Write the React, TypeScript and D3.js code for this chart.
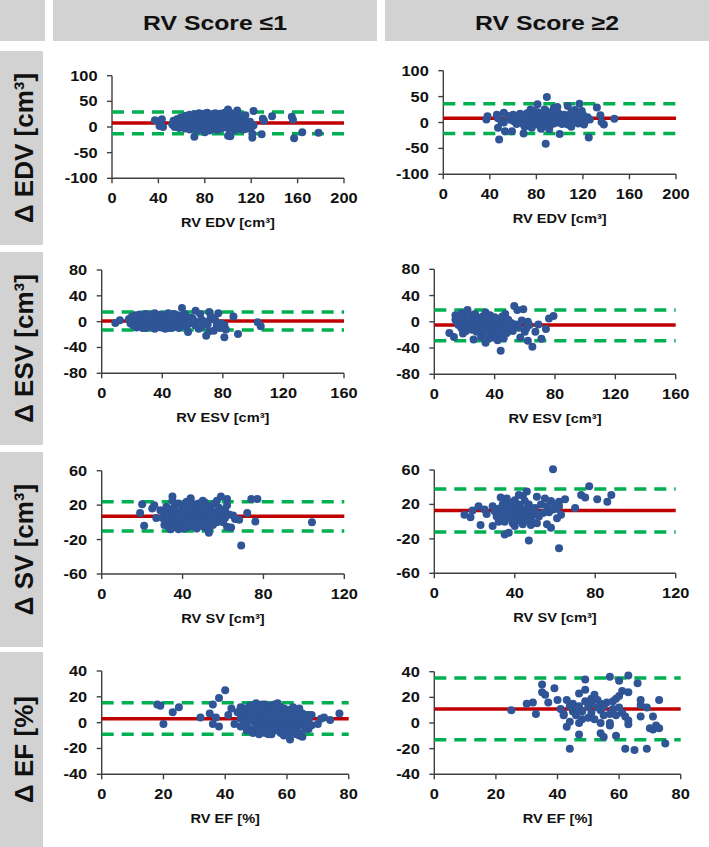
import React from 'react';
import * as d3 from 'd3';

type Pt = [number, number];

// ---------- DATA ----------
const columnTitles = ['RV Score ≤1', 'RV Score ≥2'];
const rowLabels = ['Δ EDV [cm³]', 'Δ ESV [cm³]', 'Δ SV [cm³]', 'Δ EF [%]'];
const xTitles = ['RV EDV [cm³]', 'RV ESV [cm³]', 'RV SV [cm³]', 'RV EF [%]'];
const xDomains: [number, number][] = [[0, 200], [0, 160], [0, 120], [0, 80]];
const xTicks = [[0, 40, 80, 120, 160, 200], [0, 40, 80, 120, 160], [0, 40, 80, 120], [0, 20, 40, 60, 80]];
const yDomains: [number, number][] = [[-100, 100], [-80, 80], [-60, 60], [-40, 40]];
const yTicks = [[-100, -50, 0, 50, 100], [-80, -40, 0, 40, 80], [-60, -20, 20, 60], [-40, -20, 0, 20, 40]];

// [mean bias, upper LoA, lower LoA] per row, for score ≤1 and ≥2
const statsLow = [[8, 29, -13], [1, 15, -13], [7, 24, -10], [3, 15.5, -9]];
const statsHigh = [[8, 36, -21], [-5, 18, -29], [13, 38, -12], [11, 35, -13]];

const edvLow: Pt[] = [
  [37,13],[41,2],[43,15],[44,0],[71,-19],[80,-10],[100,-17],[102,-18],[100,34],[108,32],[122,31],[121,-21],[121,-13],[129,-14],[130,16],[131,12],[138,21],[155,20],[156,14],[157,-22],[164,-10],[178,-11],
  [52,5],[53,12],[54,0],[55,8],[56,15],[57,3],[58,10],[58,-2],[59,18],[60,6],[60,13],[61,1],[62,20],[62,9],[63,-3],[63,15],[64,4],[64,22],[65,11],[65,0],[66,17],[66,7],[67,-5],[67,24],[68,13],[68,3],[69,19],[69,9],[70,-2],[70,15],[71,25],[71,6],[72,12],[72,0],[73,20],[73,8],[74,-6],[74,16],[75,27],[75,4],[76,11],[76,22],[77,-1],[77,14],[78,7],[78,19],[79,2],[79,26],[80,12],[80,21],[81,-4],[81,9],[82,16],[82,28],[83,3],[83,13],[84,23],[84,-7],[85,10],[85,18],[86,1],[86,25],[87,14],[87,6],[88,20],[88,-3],[89,11],[89,27],[90,4],[90,16],[91,22],[91,-6],[92,9],[92,14],[93,26],[93,2],[94,18],[94,7],[95,-2],[95,23],[96,12],[96,5],[97,19],[97,28],[98,0],[98,15],[99,8],[99,24],[100,13],[101,-4],[101,20],[102,6],[103,17],[103,27],[104,1],[104,11],[105,22],[106,-6],[106,14],[107,8],[107,25],[108,18],[109,3],[109,12],[110,-3],[110,21],[111,9],[112,15],[113,-5],[113,4],[114,11],[115,23],[116,2],[117,7],[118,-2],[119,10],[120,5],[120,0],[122,3],[115,-4]
];

const edvHigh: Pt[] = [
  [37,6],[38,12],[46,15],[47,8],[47,-10],[48,-33],[50,1],[52,19],[53,-17],[52,0],[55,13],[59,-17],[60,15],[64,10],[66,17],[67,4],[69,-4],[69,-21],[73,8],[75,25],[78,13],[81,35],[83,-2],[88,23],[88,-41],[89,49],[91,-13],[95,28],[98,30],[100,-22],[107,32],[113,24],[117,36],[119,22],[121,-4],[125,-29],[126,6],[132,29],[135,14],[136,1],[138,-4],[147,7],
  [58,5],[61,2],[62,12],[63,-3],[65,8],[66,0],[68,14],[70,-8],[71,6],[72,18],[73,-2],[74,10],[75,2],[76,-6],[77,15],[78,22],[79,5],[80,-4],[80,10],[81,20],[82,0],[83,8],[84,15],[85,-8],[85,4],[86,12],[87,25],[88,-2],[89,7],[90,16],[91,2],[92,-5],[92,10],[93,20],[94,5],[95,-2],[96,14],[97,8],[98,0],[99,18],[100,5],[101,12],[102,-3],[103,8],[104,15],[105,2],[106,10],[107,-4],[108,14],[109,5],[110,20],[111,0],[112,8],[114,3],[115,12],[116,-2],[118,8],[120,15],[122,3],[124,10],[110,-8],[96,24],[84,-12],[76,-10]
];

const esvLow: Pt[] = [
  [9,-2],[12,2],[53,21],[57,-16],[62,17],[65,12],[69,0],[69,-22],[71,-15],[71,15],[77,13],[76,-7],[78,-10],[81,-24],[81,-5],[82,-12],[87,8],[90,-19],[103,-1],[105,-7],[74,5],[66,-8],[62,0],[59,6],[64,-11],[74,-14],
  [18,4],[19,-3],[20,8],[20,0],[21,-6],[21,5],[22,10],[22,-1],[23,3],[23,-9],[24,7],[24,-4],[25,1],[25,11],[26,-7],[26,4],[27,9],[27,-2],[28,0],[28,6],[29,-10],[29,12],[30,3],[30,-5],[31,8],[31,-1],[32,5],[32,-8],[33,11],[33,2],[34,-3],[34,7],[35,13],[35,-11],[36,0],[36,5],[37,9],[37,-6],[38,3],[38,-2],[39,11],[39,-9],[40,6],[40,0],[41,-4],[41,8],[42,2],[42,-11],[43,10],[43,-1],[44,4],[44,-7],[45,7],[45,1],[46,-3],[46,11],[47,5],[47,-9],[48,0],[48,8],[49,-5],[49,3],[50,10],[50,-2],[51,6],[51,-10],[52,1],[52,-6],[53,9],[53,4],[54,-3],[54,7],[55,0],[55,12],[56,-8],[56,5],[30,9],[33,-6],[36,10],[39,-5],[42,7],[45,-10],[48,12],[24,9],[27,-10],[44,13],[58,-3],[60,5],[62,-6],[66,3],[70,-4],[72,8],[75,2],[79,-3]
];

const esvHigh: Pt[] = [
  [10,-17],[13,-23],[14,10],[14,3],[18,13],[22,18],[26,-27],[34,-32],[34,14],[39,-24],[42,-28],[44,-44],[47,12],[53,24],[55,18],[57,-24],[59,19],[62,-29],[65,-38],[69,-4],[71,-26],[74,-11],[76,5],[79,9],[67,-15],[62,0],[61,-10],[51,-2],
  [15,0],[16,-5],[17,5],[18,-10],[19,2],[20,-3],[20,8],[21,-14],[22,0],[23,5],[23,-8],[24,-2],[25,10],[25,-12],[26,2],[27,-6],[28,6],[28,-15],[29,-1],[30,3],[30,-9],[31,-4],[32,8],[32,-18],[33,0],[34,-7],[35,5],[35,-12],[36,-2],[37,10],[37,-20],[38,-5],[38,3],[39,-10],[40,0],[40,7],[41,-15],[41,-3],[42,4],[43,-8],[43,-21],[44,1],[45,-5],[45,8],[46,-12],[47,-2],[48,-17],[49,3],[50,-8],[52,-14],[54,-4],[56,-9],[58,2],[60,-15],[63,-5],[27,12],[19,-18],[31,-23],[36,-26],[46,-25]
];

const svLow: Pt[] = [
  [20,21],[19,11],[21,-4],[25,16],[26,20],[27,5],[29,14],[35,30],[44,28],[50,25],[53,-12],[59,30],[62,27],[62,-5],[64,-6],[66,4],[69,-27],[72,11],[74,27],[76,1],[77,27],[104,0],[34,-8],[39,-4],[43,-5],[49,-4],[57,0],[61,14],
  [30,5],[31,-3],[31,12],[32,2],[33,8],[33,-5],[34,15],[34,0],[35,6],[35,-6],[36,18],[36,3],[37,10],[37,-2],[38,7],[38,22],[39,0],[39,13],[40,4],[40,-6],[41,17],[41,9],[42,2],[42,24],[43,11],[43,-3],[44,6],[44,19],[45,0],[45,14],[46,8],[46,-5],[47,21],[47,3],[48,12],[48,-2],[49,7],[49,17],[50,1],[50,11],[51,23],[51,-6],[52,5],[52,15],[53,9],[53,0],[54,19],[54,4],[55,12],[55,-3],[56,7],[56,22],[57,10],[58,3],[58,17],[59,8],[60,0],[60,14],[61,5],[62,20],[32,18],[35,25],[38,-8],[41,-7],[44,25],[47,-7],[50,20],[53,-8],[57,25],[63,9],[65,8],[68,3],[36,12],[40,20],[46,14],[39,8],[43,16],[48,22]
];

const svHigh: Pt[] = [
  [15,8],[18,5],[19,13],[22,18],[23,-4],[25,14],[26,9],[29,18],[29,-5],[32,0],[33,28],[35,-15],[37,-13],[42,31],[46,35],[47,-22],[51,29],[51,-2],[55,27],[56,-3],[58,-7],[59,61],[61,15],[62,-31],[61,4],[65,26],[70,16],[73,31],[75,28],[77,41],[81,26],[86,23],[88,31],[57,11],[58,24],[60,20],[62,23],
  [30,12],[31,6],[32,15],[33,3],[34,10],[35,18],[35,0],[36,8],[37,14],[37,22],[38,4],[38,11],[39,18],[39,-2],[40,7],[40,25],[41,13],[41,1],[42,9],[42,20],[43,5],[43,16],[44,-3],[44,11],[45,24],[45,7],[46,15],[46,2],[47,10],[47,20],[48,5],[48,13],[49,-1],[49,8],[50,16],[50,12],[52,6],[53,20],[54,10],[56,18],[59,14],[62,18],[63,8],[40,-5],[36,27],[34,20],[44,30],[48,-4]
];

const efLow: Pt[] = [
  [18,14],[19,13],[20,-1],[23,8],[25,12],[32,4],[35,7],[36,14],[36,-1],[37,4],[38,19],[38,-3],[40,25],[41,6],[42,11],[43,-1],[61,-13],[59,-10],[64,-10],[65,-11],[67,-5],[68,6],[70,-1],[72,4],[74,2],[77,7],[71,3],[62,9],[66,6],
  [44,8],[45,3],[45,12],[46,-2],[46,6],[47,10],[47,0],[48,4],[48,-5],[48,13],[49,7],[49,-8],[49,1],[50,15],[50,5],[50,-3],[50,10],[51,-9],[51,8],[51,2],[51,13],[52,-5],[52,6],[52,0],[52,11],[53,3],[53,-8],[53,9],[53,14],[54,-2],[54,5],[54,11],[54,-6],[55,1],[55,8],[55,13],[55,-9],[56,4],[56,-3],[56,10],[56,0],[57,7],[57,15],[57,-6],[57,2],[58,9],[58,-1],[58,12],[58,-8],[59,5],[59,0],[59,11],[59,-4],[60,7],[60,2],[60,-6],[60,10],[61,-2],[61,4],[61,9],[62,0],[62,6],[62,-7],[62,12],[63,3],[63,-4],[63,8],[64,1],[64,-8],[64,5],[64,11],[65,-2],[65,4],[65,7],[66,0],[66,-5],[66,3],[67,2],[67,6],[68,-2],[49,4],[50,-6],[51,-1],[52,3],[53,0],[54,2],[55,-4],[56,7],[57,-3],[58,4],[59,-7],[60,-1],[61,1],[62,3],[63,-1],[47,5],[48,9],[46,11],[45,-3],[47,-6],[53,6],[55,5],[57,10],[59,8],[61,-8],[63,-9],[50,12],[52,14],[56,14],[54,-9]
];

const efHigh: Pt[] = [
  [25,10],[30,15],[32,16],[33,7],[35,30],[35,24],[36,22],[37,16],[39,27],[40,18],[41,11],[42,6],[43,18],[43,-3],[44,1],[44,-20],[45,15],[47,-9],[47,23],[49,26],[49,34],[54,-8],[55,-11],[54,0],[56,16],[57,36],[57,0],[57,-2],[59,-10],[60,33],[60,21],[61,25],[62,-20],[63,24],[63,37],[62,5],[63,2],[63,-1],[65,-21],[66,31],[67,18],[67,14],[67,5],[69,12],[69,-20],[70,-4],[71,-5],[71,5],[72,-2],[73,18],[73,-4],[75,-16],
  [42,7],[44,13],[45,9],[46,6],[47,13],[48,9],[50,13],[50,4],[51,19],[51,8],[52,22],[52,3],[54,15],[54,10],[55,13],[58,17],[58,11],[59,19],[60,12],[61,8],[53,18],[53,12],[51,15],[49,17],[48,3],[47,0],[46,11],[55,6],[57,7],[59,6]
];

const pointsLow = [edvLow, esvLow, svLow, efLow];
const pointsHigh = [edvHigh, esvHigh, svHigh, efHigh];

// ---------- LAYOUT ----------
const W = 709;
const H = 847;
const GREY = '#d2d2d2';
const DOT = '#2f5597';
const RED = '#c00000';
const GREEN = '#00b050';
const AXIS = '#404040';
const FONT = '"Liberation Sans", Arial, sans-serif';

const headerBoxes = [
  { x: 53, w: 324 },
  { x: 385, w: 324 },
];
const rowBoxes = [
  { y: 51, h: 194 },
  { y: 252, h: 193 },
  { y: 452, h: 195 },
  { y: 652, h: 195 },
];
// plot frames: [col][row]
const frames = [
  [
    { x0: 112, x1: 344, y0: 75.7, y1: 178.3 },
    { x0: 101.7, x1: 344, y0: 270, y1: 373.3 },
    { x0: 101.7, x1: 344.3, y0: 470.7, y1: 574 },
    { x0: 101.7, x1: 348.7, y0: 671, y1: 774.3 },
  ],
  [
    { x0: 443.3, x1: 676, y0: 70.7, y1: 174.3 },
    { x0: 434.3, x1: 675.7, y0: 269.3, y1: 374.3 },
    { x0: 434.3, x1: 675.7, y0: 470, y1: 573.3 },
    { x0: 434.3, x1: 680.7, y0: 671.7, y1: 774.3 },
  ],
];

const SX = 1.17;

function Panel({ col, row }: { col: number; row: number }) {
  const f = frames[col][row];
  const x = d3.scaleLinear().domain(xDomains[row]).range([f.x0, f.x1]);
  const y = d3.scaleLinear().domain(yDomains[row]).range([f.y1, f.y0]);
  const pts = col === 0 ? pointsLow[row] : pointsHigh[row];
  const st = col === 0 ? statsLow[row] : statsHigh[row];
  const cx = (f.x0 + f.x1) / 2;
  return (
    <g>
      {/* axes */}
      <line x1={f.x0} x2={f.x0} y1={f.y0} y2={f.y1} stroke={AXIS} strokeWidth={1.4} />
      <line x1={f.x0} x2={f.x1} y1={f.y1} y2={f.y1} stroke={AXIS} strokeWidth={1.4} />
      {yTicks[row].map((t) => (
        <g key={'y' + t}>
          <line x1={f.x0 - 5} x2={f.x0} y1={y(t)} y2={y(t)} stroke={AXIS} strokeWidth={1.4} />
          <text
            transform={`translate(${f.x0 - 14.5},${y(t) + 5}) scale(${SX},1)`}
            textAnchor="end"
            fontFamily={FONT}
            fontWeight="bold"
            fontSize={14}
            fill="#111"
          >
            {t}
          </text>
        </g>
      ))}
      {xTicks[row].map((t) => (
        <g key={'x' + t}>
          <line x1={x(t)} x2={x(t)} y1={f.y1} y2={f.y1 + 5} stroke={AXIS} strokeWidth={1.4} />
          <text
            transform={`translate(${x(t)},${f.y1 + 25}) scale(${SX},1)`}
            textAnchor="middle"
            fontFamily={FONT}
            fontWeight="bold"
            fontSize={14}
            fill="#111"
          >
            {t}
          </text>
        </g>
      ))}
      <text
        transform={`translate(${cx},${f.y1 + 49}) scale(${SX},1)`}
        textAnchor="middle"
        fontFamily={FONT}
        fontWeight="bold"
        fontSize={12.5}
        fill="#111"
      >
        {xTitles[row]}
      </text>
      {/* limits and mean */}
      <line x1={f.x0} x2={f.x1} y1={y(st[1])} y2={y(st[1])} stroke={GREEN} strokeWidth={3.5} strokeDasharray="12,8" />
      <line x1={f.x0} x2={f.x1} y1={y(st[2])} y2={y(st[2])} stroke={GREEN} strokeWidth={3.5} strokeDasharray="12,8" />
      <line x1={f.x0} x2={f.x1} y1={y(st[0])} y2={y(st[0])} stroke={RED} strokeWidth={3.5} />
      {pts.map((p, i) => (
        <circle key={i} cx={x(p[0])} cy={y(p[1])} r={4} fill={DOT} />
      ))}
    </g>
  );
}

export default function App() {
  return (
    <svg
      width={W}
      height={H}
      viewBox={`0 0 ${W} ${H}`}
      style={{ position: 'absolute', left: 0, top: 0, display: 'block', background: '#fff' }}
    >
      <rect x={0} y={0} width={W} height={H} fill="#fff" />
      {/* header */}
      <rect x={0} y={0} width={45} height={41} fill={GREY} />
      {headerBoxes.map((b, i) => (
        <g key={i}>
          <rect x={b.x} y={0} width={b.w} height={41} fill={GREY} />
          <text
            transform={`translate(${b.x + b.w / 2},${29.5}) scale(1.18,1)`}
            textAnchor="middle"
            fontFamily={FONT}
            fontWeight="bold"
            fontSize={21}
            fill="#111"
          >
            {columnTitles[i]}
          </text>
        </g>
      ))}
      {/* row labels */}
      {rowBoxes.map((b, i) => (
        <g key={i}>
          <rect x={0} y={b.y} width={43} height={b.h} fill={GREY} />
          <text
            transform={`translate(33,${b.y + b.h / 2}) rotate(-90)`}
            textAnchor="middle"
            fontFamily={FONT}
            fontWeight="bold"
            fontSize={26}
            fill="#111"
          >
            {rowLabels[i]}
          </text>
        </g>
      ))}
      {[0, 1].map((c) => [0, 1, 2, 3].map((r) => <Panel key={c + '-' + r} col={c} row={r} />))}
    </svg>
  );
}
